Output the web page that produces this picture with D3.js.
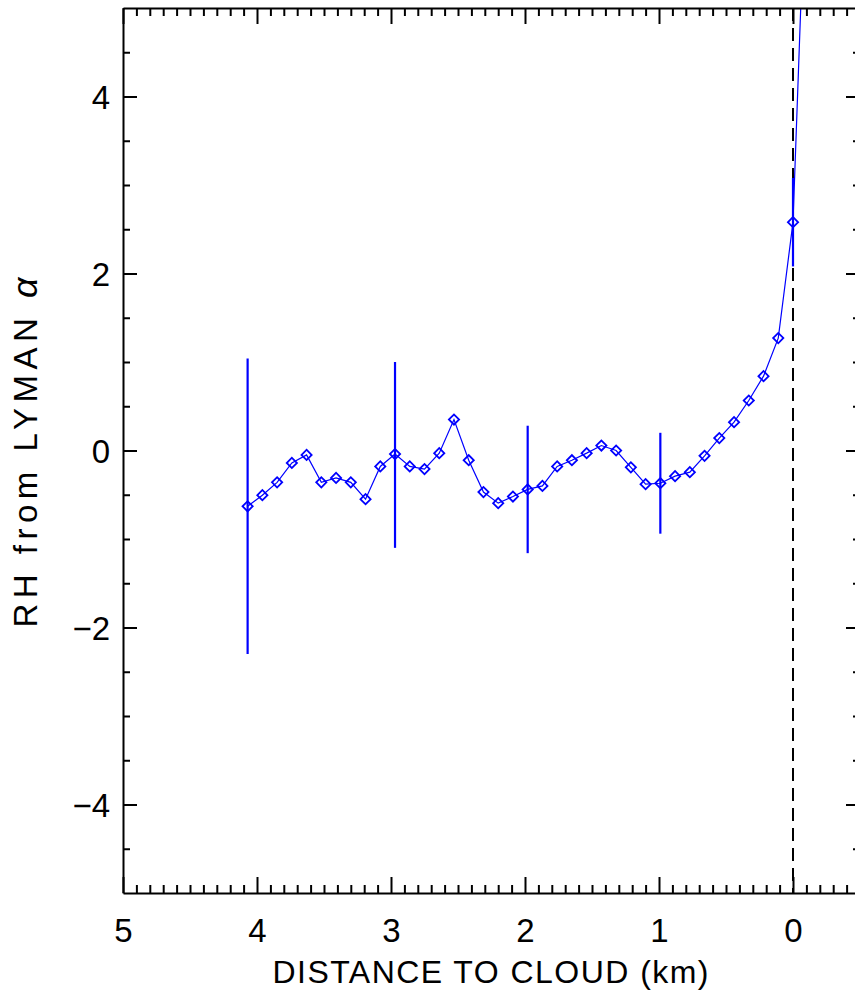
<!DOCTYPE html>
<html>
<head>
<meta charset="utf-8">
<script src="https://cdn.jsdelivr.net/npm/d3@7"></script>
<style>
  html, body { margin: 0; padding: 0; background: #fff; overflow: hidden; }
  svg { display: block; }
  text { font-family: "Liberation Sans", Arial, Helvetica, sans-serif; fill: #000; }
</style>
</head>
<body>
<svg id="chart" width="855" height="992"></svg>
<script>
// Distance to cloud edge (km) and relative humidity anomaly from the Lyman-alpha hygrometer
const distance = [4.07, 3.96, 3.85, 3.74, 3.63, 3.52, 3.41, 3.30, 3.19, 3.08,
                  2.97, 2.86, 2.75, 2.64, 2.53, 2.42, 2.31, 2.20, 2.09, 1.98,
                  1.87, 1.76, 1.65, 1.54, 1.43, 1.32, 1.21, 1.10, 0.99, 0.88,
                  0.77, 0.66, 0.55, 0.44, 0.33, 0.22, 0.11, 0.00, -0.11];
const rh = [-0.63, -0.505, -0.36, -0.14, -0.05, -0.36, -0.31, -0.36, -0.55, -0.18,
            -0.04, -0.18, -0.21, -0.03, 0.35, -0.11, -0.47, -0.595, -0.52, -0.44,
            -0.40, -0.18, -0.11, -0.03, 0.056, 0.0, -0.19, -0.38, -0.37, -0.29,
            -0.245, -0.06, 0.14, 0.32, 0.565, 0.84, 1.27, 2.58, 7.2];

// Error bars (low / high bounds) at selected distances
const errDistance = [4.07, 2.97, 1.98, 0.99, 0.00];
const errLow  = [-2.30, -1.10, -1.16, -0.94, 2.08];
const errHigh = [ 1.04,  1.00,  0.28,  0.20, 3.08];

// Axis ticks
const xMajorTicks = [5, 4, 3, 2, 1, 0];
const yMajorTicks = [-4, -2, 0, 2, 4];

const svg = d3.select("#chart");
const mLeft = 123, mRight = 860, mTop = 8, mBottom = 893;

const x = d3.scaleLinear().domain([5, -0.5]).range([mLeft, mRight]);
const y = d3.scaleLinear().domain([-5, 5]).range([mBottom, mTop]);

const xMinor = d3.range(-5, 51).map(d => d / 10).filter(v => !xMajorTicks.includes(v) && v <= 5 && v >= -0.5);
const yMinor = d3.range(-10, 11).map(d => d / 2).filter(v => !yMajorTicks.includes(v) && Math.abs(v) < 5);

const blue = "#0000ff";

// Clip region for data
svg.append("defs").append("clipPath").attr("id", "plotclip")
  .append("rect").attr("x", mLeft).attr("y", mTop).attr("width", mRight - mLeft).attr("height", mBottom - mTop);

const data = svg.append("g").attr("clip-path", "url(#plotclip)");

// Cloud edge marker
data.append("line")
  .attr("x1", x(0)).attr("x2", x(0)).attr("y1", y(5)).attr("y2", y(-5))
  .attr("stroke", "#000").attr("stroke-width", 2).attr("stroke-dasharray", "13,7");

// Error bars
errDistance.forEach((d, i) => {
  data.append("line")
    .attr("x1", x(d)).attr("x2", x(d))
    .attr("y1", y(errLow[i])).attr("y2", y(errHigh[i]))
    .attr("stroke", blue).attr("stroke-width", 2.2);
});

// Connecting line
const pts = distance.map((d, i) => [d, rh[i]]);
data.append("path")
  .datum(pts)
  .attr("d", d3.line().x(d => x(d[0])).y(d => y(d[1])))
  .attr("fill", "none").attr("stroke", blue).attr("stroke-width", 1.2);

// Diamond markers
const sym = d3.symbol().type(d3.symbolSquare).size(52);
data.selectAll("path.mk").data(pts).enter().append("path")
  .attr("class", "mk")
  .attr("d", sym)
  .attr("transform", d => `translate(${x(d[0])},${y(d[1])}) rotate(45)`)
  .attr("fill", "none").attr("stroke", blue).attr("stroke-width", 1.8);

// Axes frame
const axisStroke = 2;
function styleAxis(g) {
  g.select(".domain").attr("stroke", "#000").attr("stroke-width", axisStroke);
  g.selectAll(".tick line").attr("stroke", "#000").attr("stroke-width", axisStroke);
}

// Bottom axis (ticks pointing inward)
const gBottom = svg.append("g").attr("transform", `translate(0,${mBottom})`)
  .call(d3.axisBottom(x).tickValues(xMajorTicks).tickSizeInner(-16).tickSizeOuter(0).tickPadding(25).tickFormat(d3.format("d")));
gBottom.call(styleAxis);
gBottom.selectAll(".tick text").attr("font-size", 33).attr("font-family", "Liberation Sans, Arial, sans-serif").attr("dy", "0.72em");
svg.append("g").attr("transform", `translate(0,${mBottom})`)
  .call(d3.axisBottom(x).tickValues(xMinor).tickSizeInner(-8).tickSizeOuter(0).tickFormat(""))
  .call(styleAxis).select(".domain").remove();

// Top axis
svg.append("g").attr("transform", `translate(0,${mTop})`)
  .call(d3.axisTop(x).tickValues(xMajorTicks).tickSizeInner(-16).tickSizeOuter(0).tickFormat(""))
  .call(styleAxis);
svg.append("g").attr("transform", `translate(0,${mTop})`)
  .call(d3.axisTop(x).tickValues(xMinor).tickSizeInner(-8).tickSizeOuter(0).tickFormat(""))
  .call(styleAxis).select(".domain").remove();

// Left axis
const fmtY = d => (d < 0 ? "\u2212" + Math.abs(d) : String(d));
const gLeft = svg.append("g").attr("transform", `translate(${mLeft},0)`)
  .call(d3.axisLeft(y).tickValues(yMajorTicks).tickSizeInner(-14).tickSizeOuter(0).tickPadding(13).tickFormat(fmtY));
gLeft.call(styleAxis);
gLeft.selectAll(".tick text").attr("font-size", 33).attr("font-family", "Liberation Sans, Arial, sans-serif").attr("dy", "0.36em");
svg.append("g").attr("transform", `translate(${mLeft},0)`)
  .call(d3.axisLeft(y).tickValues(yMinor).tickSizeInner(-7).tickSizeOuter(0).tickFormat(""))
  .call(styleAxis).select(".domain").remove();

// Right axis
svg.append("g").attr("transform", `translate(${mRight},0)`)
  .call(d3.axisRight(y).tickValues(yMajorTicks).tickSizeInner(-14).tickSizeOuter(0).tickFormat(""))
  .call(styleAxis);
svg.append("g").attr("transform", `translate(${mRight},0)`)
  .call(d3.axisRight(y).tickValues(yMinor).tickSizeInner(-7).tickSizeOuter(0).tickFormat(""))
  .call(styleAxis).select(".domain").remove();

// Axis titles
svg.append("text")
  .attr("x", (mLeft + mRight) / 2 - 1).attr("y", 983)
  .attr("text-anchor", "middle").attr("font-size", 32)
  .attr("textLength", 436).attr("lengthAdjust", "spacing")
  .text("DISTANCE TO CLOUD (km)");

const yTitle = svg.append("text")
  .attr("transform", `translate(37,${(mTop + mBottom) / 2 + 2}) rotate(-90)`)
  .attr("text-anchor", "middle").attr("font-size", 33)
  .attr("textLength", 350).attr("lengthAdjust", "spacing");
yTitle.append("tspan").text("RH from LYMAN ");
yTitle.append("tspan").attr("font-style", "italic").attr("font-size", 36).text("\u03b1");
</script>
</body>
</html>
